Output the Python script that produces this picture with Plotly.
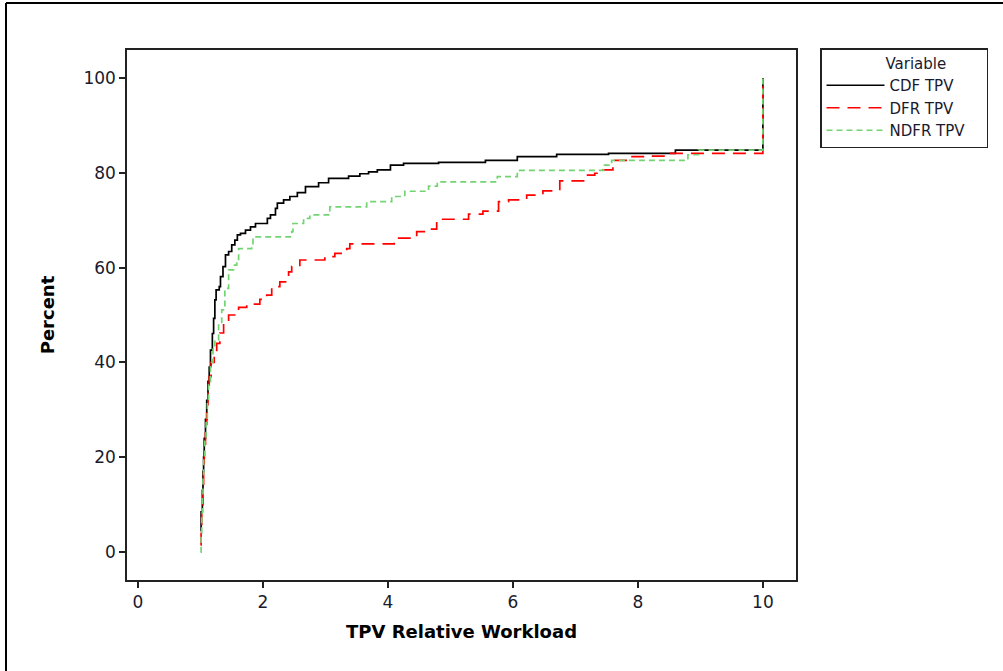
import plotly.graph_objects as go

# ---- data ----
cdf_x = [1.00, 1.01, 1.03, 1.04, 1.05, 1.06, 1.08, 1.10, 1.12, 1.14, 1.16, 1.19, 1.21, 1.23, 1.25,
         1.30, 1.32, 1.36, 1.40, 1.45, 1.50, 1.55, 1.59, 1.64, 1.72, 1.80, 1.88, 2.07, 2.12, 2.20,
         2.23, 2.33, 2.43, 2.55, 2.68, 2.89, 3.05, 3.37, 3.55, 3.69, 3.83, 4.04, 4.25, 4.81, 5.56,
         6.07, 6.70, 7.53, 8.60, 10.0]
cdf_y = [4.5, 8.5, 13, 17, 20, 24, 28, 32, 36, 39, 42.6, 46.1, 49.3, 53.2, 55.3,
         56.0, 58.1, 60.2, 62.7, 63.4, 64.8, 65.8, 66.9, 67.2, 67.9, 68.6, 69.3, 70.4, 71.1, 72.5,
         73.6, 74.3, 75.0, 75.8, 77.1, 77.9, 78.8, 79.3, 79.8, 80.2, 80.6, 81.6, 82.0, 82.2, 82.6,
         83.4, 83.9, 84.1, 84.8, 100]

dfr_x = [1.00, 1.01, 1.02, 1.04, 1.05, 1.06, 1.08, 1.10, 1.12, 1.14, 1.17, 1.22, 1.26, 1.31, 1.37,
         1.45, 1.61, 1.74, 1.95, 2.06, 2.14, 2.27, 2.41, 2.46, 2.59, 2.99, 3.15, 3.34, 3.39, 4.10,
         4.46, 4.62, 4.78, 4.83, 5.29, 5.52, 5.77, 5.93, 6.22, 6.48, 6.75, 7.15, 7.31, 7.44, 7.60,
         7.87, 8.14, 8.51, 10.0]
dfr_y = [1.5, 5, 9, 14, 18, 22, 26, 30, 34, 37, 40, 42, 44.0, 46.2, 48.9,
         50.0, 51.6, 52.3, 53.3, 54.2, 56.0, 57.0, 59.1, 60.2, 61.6, 62.3, 63.0, 64.0, 65.0, 66.2,
         67.6, 68.1, 69.7, 70.2, 71.3, 71.9, 73.9, 74.3, 75.3, 76.2, 78.3, 79.5, 79.9, 80.6, 82.6,
         83.4, 83.5, 84.1, 100]

ndfr_x = [1.00, 1.01, 1.02, 1.03, 1.04, 1.05, 1.07, 1.09, 1.11, 1.13, 1.16, 1.20, 1.23, 1.29, 1.34,
          1.39, 1.45, 1.53, 1.58, 1.61, 1.82, 1.84, 2.46, 2.48, 2.65, 2.75, 3.07, 3.66, 4.06, 4.27,
          4.65, 4.79, 5.75, 6.07, 7.45, 7.58, 8.80, 8.97, 10.0]
ndfr_y = [0, 4, 8, 12, 16, 20, 24, 28, 32, 36, 40, 43, 44.7, 48.2, 51.1,
          55.6, 59.5, 60.5, 61.2, 64.0, 64.4, 66.5, 67.6, 69.3, 70.4, 71.1, 72.8, 73.9, 75.0, 76.1,
          77.2, 78.1, 79.2, 80.5, 81.6, 82.6, 83.8, 84.8, 100]

series_names = ["CDF TPV", "DFR TPV", "NDFR TPV"]
x_ticks = [0, 2, 4, 6, 8, 10]
y_ticks = [0, 20, 40, 60, 80, 100]

FONT = "DejaVu Sans"

fig = go.Figure()
fig.add_trace(go.Scatter(x=cdf_x, y=cdf_y, name=series_names[0], mode="lines",
                         line=dict(color="#000000", width=1.7, shape="hv")))
fig.add_trace(go.Scatter(x=dfr_x, y=dfr_y, name=series_names[1], mode="lines",
                         line=dict(color="#ff0000", width=1.7, shape="hv", dash="13px,8px")))
fig.add_trace(go.Scatter(x=ndfr_x, y=ndfr_y, name=series_names[2], mode="lines",
                         line=dict(color="#74d474", width=1.7, shape="hv", dash="6px,4px")))

L, R, T, B = 127, 796, 50, 580
W, H = 1003, 671

def px(xp):
    return (xp - L) / (R - L)

def py(yp):
    return (B - yp) / (B - T)

axis_common = dict(showline=True, linecolor="#222222", linewidth=1.5, mirror=True,
                   ticks="outside", ticklen=6, tickwidth=1.5, tickcolor="#222222",
                   showgrid=False, zeroline=False,
                   tickfont=dict(family=FONT, size=17, color="#1a1a2e"))

fig.update_layout(
    width=W, height=H,
    margin=dict(l=L, r=W - R, t=T, b=H - B, autoexpand=False),
    paper_bgcolor="white", plot_bgcolor="white",
    xaxis=dict(range=[-0.176, 10.53], tickvals=x_ticks,
               title=dict(text="<b>TPV Relative Workload</b>",
                          font=dict(family=FONT, size=18, color="#000000"), standoff=14),
               **axis_common),
    yaxis=dict(range=[-5.9, 105.9], tickvals=y_ticks,
               title=dict(text="<b>Percent</b>",
                          font=dict(family=FONT, size=18, color="#000000"), standoff=24),
               **axis_common),
    legend=dict(x=px(820), y=py(48), xanchor="left", yanchor="top",
                bordercolor="#222222", borderwidth=1.5, bgcolor="white",
                font=dict(family=FONT, size=15, color="#1a1a2e"),
                title=dict(text="\u00a0" * 13 + "Variable" + "\u00a0" * 8, side="top",
                           font=dict(family=FONT, size=15, color="#1a1a2e")),
                itemwidth=58, tracegroupgap=0),
    shapes=[
        dict(type="line", xref="paper", yref="paper", x0=px(6), x1=px(1003), y0=py(3), y1=py(3),
             line=dict(color="black", width=2)),
        dict(type="line", xref="paper", yref="paper", x0=px(6), x1=px(6), y0=py(3), y1=py(671),
             line=dict(color="black", width=2)),
    ],
)

fig.write_html("out.html")
